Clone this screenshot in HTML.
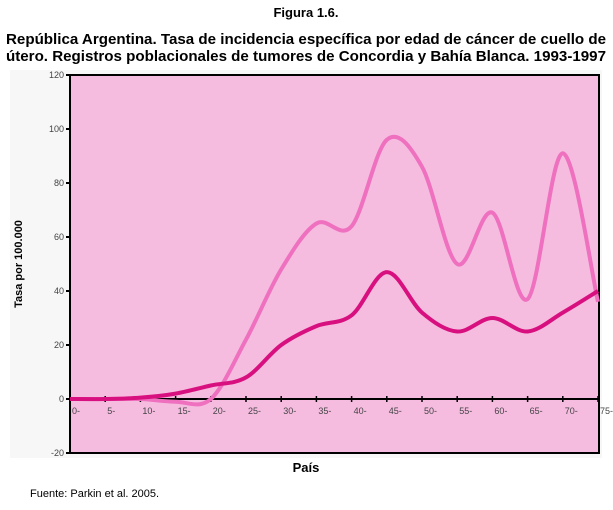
<!DOCTYPE html>
<html><head><meta charset="utf-8"><style>
body{margin:0;background:#fff;width:613px;height:505px;overflow:hidden;font-family:"Liberation Sans",sans-serif}
</style></head><body>
<svg width="613" height="505" xmlns="http://www.w3.org/2000/svg">
<text x="306" y="17" text-anchor="middle" font-size="13" font-weight="bold">Figura 1.6.</text>
<text x="306" y="44" text-anchor="middle" font-size="15" font-weight="bold" textLength="600" lengthAdjust="spacingAndGlyphs">República Argentina. Tasa de incidencia específica por edad de cáncer de cuello de</text>
<text x="306" y="61" text-anchor="middle" font-size="15" font-weight="bold" textLength="600" lengthAdjust="spacingAndGlyphs">útero. Registros poblacionales de tumores de Concordia y Bahía Blanca. 1993-1997</text>
<rect x="10" y="70" width="592" height="388" fill="#f7f7f7"/>
<rect x="70" y="75" width="529" height="378" fill="#f5bce0" stroke="#000" stroke-width="2"/>
<g id="yaxis"></g>
<g id="xaxis"></g>
<g id="series"></g>
<text transform="translate(22,264) rotate(-90)" text-anchor="middle" font-size="11" font-weight="bold">Tasa por 100.000</text>
<text x="306" y="472" text-anchor="middle" font-size="13" font-weight="bold">País</text>
<text x="30" y="497" font-size="11">Fuente: Parkin et al. 2005.</text>
</svg>
<script>
const categories=["0-","5-","10-","15-","20-","25-","30-","35-","40-","45-","50-","55-","60-","65-","70-","75-"];
const seriesLight=[0,0,0,-1,0,22,48,65,64,96,86,50,69,37,91,36];
const seriesDark=[0,0,0.5,2,5,8,20,27,31,47,32,25,30,25,32,40];
const yTicks=[-20,0,20,40,60,80,100,120];
const NS="http://www.w3.org/2000/svg";
const x0=70,step=35.2;
function xs(i){return x0+i*step;}
function ys(v){return 399-v*2.7;}
function mk(t,a,p){const e=document.createElementNS(NS,t);for(const k in a)e.setAttribute(k,a[k]);p.appendChild(e);return e;}
const ya=document.getElementById('yaxis'),xa=document.getElementById('xaxis'),sg=document.getElementById('series');
yTicks.forEach(v=>{
 const l=mk('line',{x1:66,x2:70,y1:ys(v),y2:ys(v),stroke:'#000','stroke-width':2},ya);
 
 
 const t=mk('text',{x:64,y:ys(v)+3,'text-anchor':'end','font-size':9,fill:'#444'},ya);t.textContent=v;
 
 
});
mk('line',{x1:70,x2:599,y1:ys(0),y2:ys(0),stroke:'#000','stroke-width':2},xa);
categories.forEach((c,i)=>{
 const l=mk('line',{x1:xs(i),x2:xs(i),y1:ys(0)-3,y2:ys(0)+3,stroke:'#000','stroke-width':1.5},xa);
 
 
 const t=mk('text',{x:xs(i)+2,y:ys(0)+15,'font-size':9,fill:'#444'},xa);t.textContent=c;
 
 
});
function path(vals){
 const p=vals.map((v,i)=>[xs(i),ys(v)]);
 let d=`M${p[0][0]},${p[0][1]}`;
 for(let i=0;i<p.length-1;i++){
  const a=p[Math.max(0,i-1)],b=p[i],c=p[i+1],e=p[Math.min(p.length-1,i+2)];
  d+=` C${b[0]+(c[0]-a[0])/6},${b[1]+(c[1]-a[1])/6} ${c[0]-(e[0]-b[0])/6},${c[1]-(e[1]-b[1])/6} ${c[0]},${c[1]}`;
 }
 return d;
}
const p1=mk('path',{d:path(seriesLight),fill:'none',stroke:'#ee70bf','stroke-width':4},sg);


const p2=mk('path',{d:path(seriesDark),fill:'none',stroke:'#d8107f','stroke-width':4},sg);


</script>
</body></html>
